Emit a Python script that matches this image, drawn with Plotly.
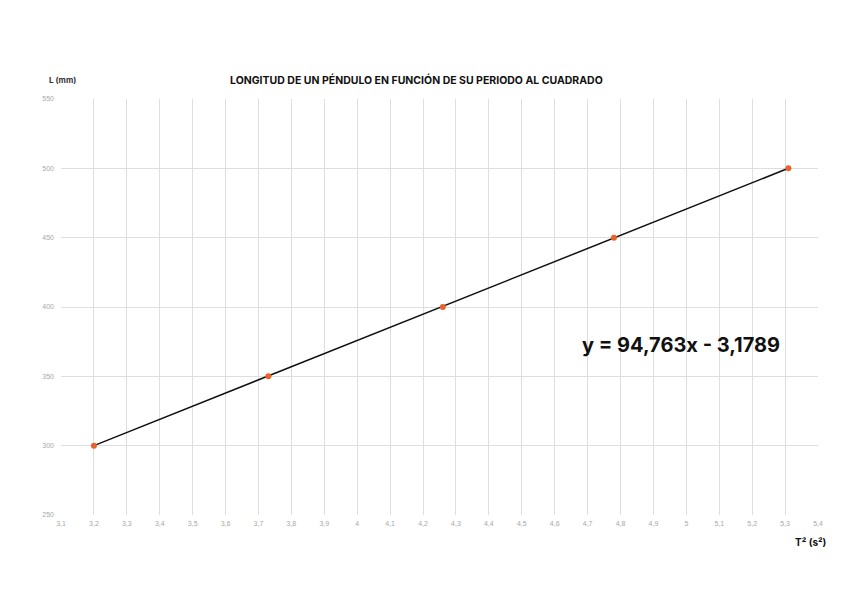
import plotly.graph_objects as go

# Data
periodo_cuadrado = [3.20, 3.73, 4.26, 4.78, 5.31]   # T^2 (s^2)
longitud = [300, 350, 400, 450, 500]                 # L (mm)
pendiente = 94.763
intercepto = -3.1789

x_ticks = [3.1, 3.2, 3.3, 3.4, 3.5, 3.6, 3.7, 3.8, 3.9, 4.0, 4.1, 4.2,
           4.3, 4.4, 4.5, 4.6, 4.7, 4.8, 4.9, 5.0, 5.1, 5.2, 5.3, 5.4]
x_labels = ["3,1", "3,2", "3,3", "3,4", "3,5", "3,6", "3,7", "3,8", "3,9", "4", "4,1", "4,2",
            "4,3", "4,4", "4,5", "4,6", "4,7", "4,8", "4,9", "5", "5,1", "5,2", "5,3", "5,4"]
y_ticks = [250, 300, 350, 400, 450, 500, 550]
y_labels = ["250", "300", "350", "400", "450", "500", "550"]

trend_x = [periodo_cuadrado[0], periodo_cuadrado[-1]]
trend_y = [pendiente * v + intercepto for v in trend_x]

fig = go.Figure()
fig.add_trace(go.Scatter(x=trend_x, y=trend_y, mode="lines",
                         line=dict(color="#111111", width=1.5),
                         hoverinfo="skip", showlegend=False))
fig.add_trace(go.Scatter(x=periodo_cuadrado, y=longitud, mode="markers",
                         marker=dict(color="#E8622A", size=6),
                         showlegend=False))

tick_font = dict(family="Liberation Sans, Arial, sans-serif", size=7, color="#a8a8a8")
grid = "#dedede"

fig.update_layout(
    width=848, height=599,
    margin=dict(l=53, r=38, t=91, b=92),
    paper_bgcolor="white", plot_bgcolor="white",
    separators=", ",
    font=dict(family="Inter, Roboto, sans-serif", color="#111111"),
    xaxis=dict(range=[3.1, 5.4], tickvals=x_ticks, ticktext=x_labels,
               showgrid=True, gridcolor=grid, gridwidth=1, zeroline=False,
               showline=False, ticks="", tickfont=tick_font, ticklabelstandoff=3),
    yaxis=dict(range=[250, 550], tickvals=y_ticks, ticktext=y_labels,
               showgrid=True, gridcolor=grid, gridwidth=1, zeroline=False,
               showline=False, ticks="", tickfont=tick_font, ticklabelstandoff=6),
    annotations=[
        dict(text="<b>LONGITUD DE UN PÉNDULO EN FUNCIÓN DE SU PERIODO AL CUADRADO</b>",
             xref="paper", yref="paper", x=0.47, y=1.0, yshift=10,
             xanchor="center", yanchor="bottom", showarrow=False,
             font=dict(size=10.5, family="Inter, sans-serif", color="#111111")),
        dict(text="<b>L (mm)</b>", xref="paper", yref="paper", x=0, xshift=-14,
             y=1.0, yshift=12, xanchor="left", yanchor="bottom", showarrow=False,
             font=dict(size=8, family="Inter, sans-serif", color="#333333")),
        dict(text="<b>T² (s²)</b>", xref="paper", yref="paper", x=1.0, xshift=10,
             y=0, yshift=-19, xanchor="right", yanchor="top", showarrow=False,
             font=dict(size=10, family="Inter, sans-serif", color="#111111")),
        dict(text="<b>y = 94,763x - 3,1789</b>", xref="paper", yref="paper",
             x=0.819, y=0.409, xanchor="center", yanchor="middle", showarrow=False,
             font=dict(size=20, family="Inter, sans-serif", color="#111111")),
    ],
)

fig.write_html("out.html")
